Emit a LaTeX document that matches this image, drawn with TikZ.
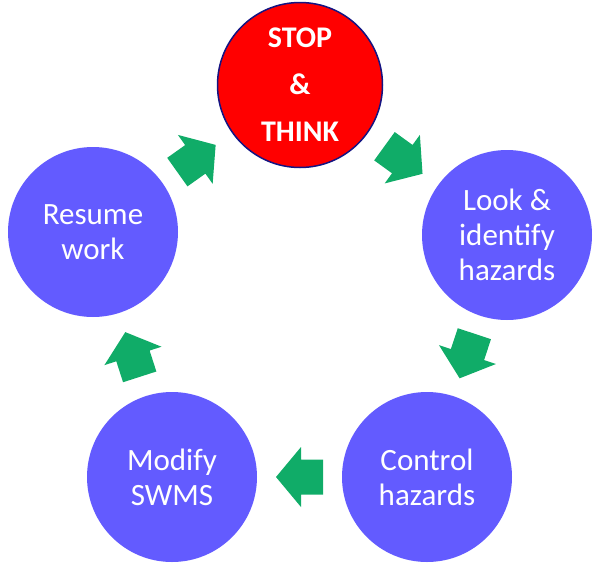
\documentclass[tikz,border=0pt]{standalone}
\usepackage{fontspec}
\setmainfont{Carlito}
\usetikzlibrary{calc}
\definecolor{stopred}{RGB}{255,0,0}
\definecolor{stopedge}{RGB}{20,20,130}
\definecolor{stepblue}{RGB}{99,91,255}
\definecolor{arrowgreen}{RGB}{16,172,104}
\begin{document}
\begin{tikzpicture}[x=1pt,y=-1pt,
  stage/.style={circle, minimum size=170pt, inner sep=0pt, fill=stepblue, text=white, align=center, font=\fontsize{31}{35}\selectfont},
  stopstage/.style={stage, fill=stopred, draw=stopedge, line width=1.5pt, minimum size=165pt, font=\bfseries\fontsize{30}{47}\selectfont},
  blockarrow/.style={fill=arrowgreen}]
\useasboundingbox (0,0) rectangle (600,568);
\node[stopstage] (stop) at (300,85) {STOP\\\&\\THINK};
\node[stage] (look) at (507,235) {Look \&\\identify\\hazards};
\node[stage] (control) at (427,477) {Control\\hazards};
\node[stage] (modify) at (172,477) {Modify\\SWMS};
\node[stage] (resume) at (93,232) {Resume\\work};
\foreach \a/\b in {stop/look, look/control, control/modify, modify/resume, resume/stop}{
  \pgfmathanglebetweenpoints{\pgfpointanchor{\a}{center}}{\pgfpointanchor{\b}{center}}
  \let\ang\pgfmathresult
  \begin{scope}[shift={($(\a.center)!0.5!(\b.center)$)}, rotate=\ang]
    \fill[blockarrow] (-23.5,-17.5) -- (-1.5,-17.5) -- (-1.5,-30) -- (23.5,0) -- (-1.5,30) -- (-1.5,17.5) -- (-23.5,17.5) -- cycle;
  \end{scope}
}
\end{tikzpicture}
\end{document}
